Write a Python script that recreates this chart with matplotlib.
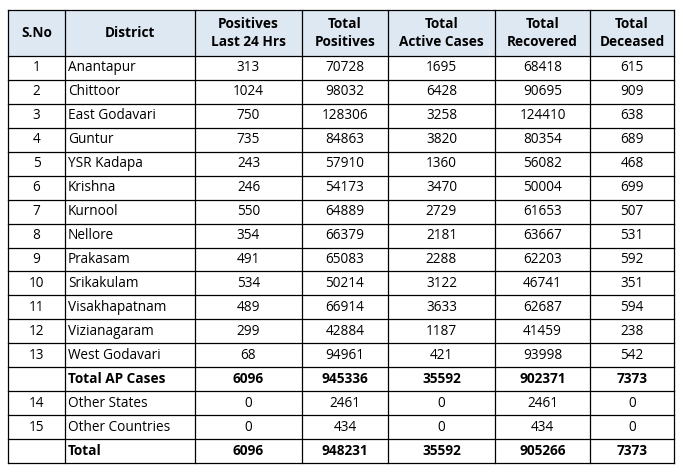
import matplotlib
matplotlib.use("Agg")
import matplotlib.pyplot as plt
from matplotlib.patches import Rectangle

headers = ["S.No", "District", "Positives\nLast 24 Hrs", "Total\nPositives", "Total\nActive Cases", "Total\nRecovered", "Total\nDeceased"]
sno = ["1","2","3","4","5","6","7","8","9","10","11","12","13","","14","15",""]
districts = ["Anantapur","Chittoor","East Godavari","Guntur","YSR Kadapa","Krishna","Kurnool","Nellore","Prakasam","Srikakulam","Visakhapatnam","Vizianagaram","West Godavari","Total AP Cases","Other States","Other Countries","Total"]
pos24 = [313,1024,750,735,243,246,550,354,491,534,489,299,68,6096,0,0,6096]
total_pos = [70728,98032,128306,84863,57910,54173,64889,66379,65083,50214,66914,42884,94961,945336,2461,434,948231]
active = [1695,6428,3258,3820,1360,3470,2729,2181,2288,3122,3633,1187,421,35592,0,0,35592]
recovered = [68418,90695,124410,80354,56082,50004,61653,63667,62203,46741,62687,41459,93998,902371,2461,434,905266]
deceased = [615,909,638,689,468,699,507,531,592,351,594,238,542,7373,0,0,7373]
bold_rows = {13, 16}

W, H = 683, 475
fig = plt.figure(figsize=(W/100, H/100), dpi=100)
ax = fig.add_axes([0, 0, 1, 1])
ax.set_xlim(0, W); ax.set_ylim(H, 0); ax.axis("off")

cols = [8, 65, 195, 302, 388, 495, 590, 674]
top, hb = 10, 56
n = len(districts)
rh = (463 - hb) / n
fam = "Open Sans"
fs = 9.8

ax.add_patch(Rectangle((cols[0], top), cols[-1]-cols[0], hb-top, facecolor="#DEE8F3", edgecolor="none"))
for i, h in enumerate(headers):
    ax.text((cols[i]+cols[i+1])/2, (top+hb)/2, h, ha="center", va="center", fontsize=fs, fontweight="bold", family=fam, linespacing=1.45)

for r in range(n):
    yc = hb + rh*(r+0.5)
    w = "bold" if r in bold_rows else "normal"
    vals = [sno[r], districts[r], pos24[r], total_pos[r], active[r], recovered[r], deceased[r]]
    for c, v in enumerate(vals):
        if c == 1:
            ax.text(cols[1]+3, yc, v, ha="left", va="center", fontsize=fs, family=fam, fontweight=w)
        else:
            ax.text((cols[c]+cols[c+1])/2, yc, str(v), ha="center", va="center", fontsize=fs, family=fam, fontweight=w)

lw = 0.9
for x in cols:
    ax.plot([x, x], [top, hb+rh*n], color="black", lw=lw)
for y in [top, hb] + [hb+rh*(r+1) for r in range(n)]:
    ax.plot([cols[0], cols[-1]], [y, y], color="black", lw=lw)

fig.savefig("out.png", dpi=100)
